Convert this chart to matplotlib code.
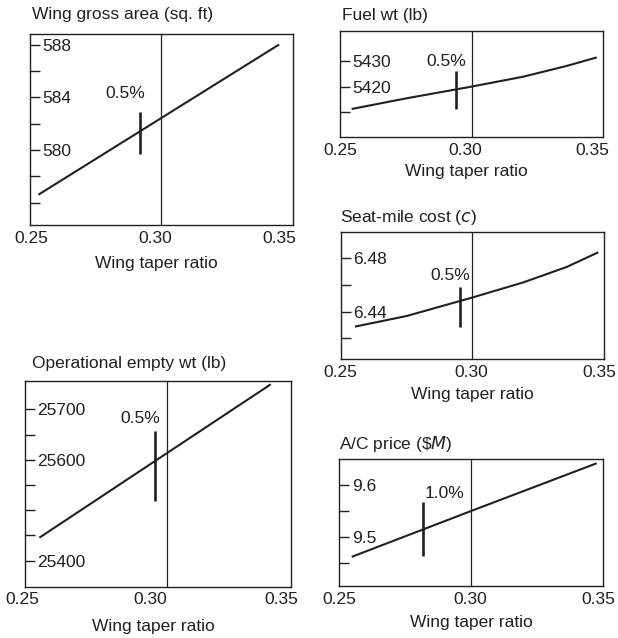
import matplotlib.pyplot as plt
from matplotlib.transforms import ScaledTranslation

plt.rcParams['font.family'] = ['Liberation Sans', 'DejaVu Sans']
plt.rcParams['font.size'] = 12.5
ink = '#231f20'

# Wing gross area (sq. ft)
taper_area = [0.2532, 0.3447]
area = [576.6, 588.0]

# Fuel wt (lb)
taper_fuel = [0.2544, 0.2754, 0.2988, 0.3197, 0.3362, 0.3476]
fuel = [5411.3, 5415.5, 5419.8, 5423.9, 5428.1, 5431.4]

# Seat-mile cost (c)
taper_cost = [0.2554, 0.2751, 0.2998, 0.3194, 0.3358, 0.3478]
cost = [6.4288, 6.4368, 6.4505, 6.4620, 6.4735, 6.4845]

# Operational empty wt (lb)
taper_oew = [0.2554, 0.3425]
oew = [25445.6, 25749.5]

# A/C price ($M)
taper_price = [0.2547, 0.30, 0.3475]
price = [9.4613, 9.55, 9.642]

# sensitivity bars: x, low, high, label
marks = {
    'area': (0.2918, 579.7, 582.9, '0.5%'),
    'fuel': (0.294, 5411.3, 5426.0, '0.5%'),
    'cost': (0.2954, 6.4287, 6.4587, '0.5%'),
    'oew': (0.2989, 25519, 25656, '0.5%'),
    'price': (0.2816, 9.4627, 9.5666, '1.0%'),
}

fig = plt.figure(figsize=(6.18, 6.38), dpi=100)


def panel(rect, title, x, y, ylim, major, major_lbl, minor, mark, lbl_xy,
          title_off, xlabel_off, tick_dx, vline=0.30):
    ax = fig.add_axes(rect)
    ax.plot(x, y, color=ink, lw=1.5, solid_capstyle='butt')
    ax.axvline(vline, color=ink, lw=0.9)
    mx, lo, hi, txt = mark
    ax.plot([mx, mx], [lo, hi], color=ink, lw=1.9, solid_capstyle='butt')
    ax.text(lbl_xy[0], lbl_xy[1], txt, ha='center', va='center', color=ink)
    ax.set_xlim(0.25, 0.35)
    ax.set_ylim(*ylim)
    ax.set_xticks([0.25, 0.30, 0.35])
    ax.set_xticklabels(['0.25', '0.30', '0.35'])
    ax.set_yticks(major)
    ax.set_yticklabels(major_lbl)
    ax.set_yticks(minor, minor=True)
    ax.tick_params(axis='x', length=0, pad=4, colors=ink, labelsize=12.5)
    ax.tick_params(axis='y', which='both', direction='in', length=7.2,
                   width=1, colors=ink, pad=-9, labelsize=12.5)
    for t in ax.get_yticklabels():
        t.set_horizontalalignment('left')
    # the printed tick labels sit a little left of their positions
    for t, dx in zip(ax.get_xticklabels(), tick_dx):
        t.set_transform(t.get_transform() +
                        ScaledTranslation(dx / fig.dpi, 0, fig.dpi_scale_trans))
    for s in ax.spines.values():
        s.set_color(ink)
        s.set_linewidth(1.0)
    ax.annotate(title, xy=(0, 1), xycoords='axes fraction',
                xytext=(title_off[0], title_off[1]), textcoords='offset pixels',
                ha='left', va='center', color=ink)
    ax.annotate('Wing taper ratio', xy=(0.5, 0), xycoords='axes fraction',
                xytext=(xlabel_off[0], -xlabel_off[1]),
                textcoords='offset pixels', ha='center', va='center',
                color=ink)
    return ax


panel([0.0485, 0.6473, 0.4256, 0.2994], 'Wing gross area (sq. ft)',
      taper_area, area, (574.3, 588.8), [580, 584, 588],
      ['580', '584', '588'], [576, 578, 582, 586], marks['area'],
      (0.2861, 584.3), (2, 20), (-5, 38), (1, -6, -14))

panel([0.5502, 0.7853, 0.4256, 0.1661], 'Fuel wt (lb)',
      taper_fuel, fuel, (5400.4, 5441.7), [5420, 5430],
      ['5420', '5430'], [5410], marks['fuel'],
      (0.2902, 5429.7), (2, 16), (-5, 35), (0, -6, -11))

panel([0.5513, 0.4368, 0.4261, 0.1991], 'Seat-mile cost ($\\it{c}$)',
      taper_cost, cost, (6.4043, 6.4995), [6.44, 6.48],
      ['6.44', '6.48'], [6.42, 6.46], marks['cost'],
      (0.2915, 6.4669), (-1, 15), (0, 35), (0, -1, -5))

panel([0.0405, 0.0804, 0.4299, 0.3224], 'Operational empty wt (lb)',
      taper_oew, oew, (25348.5, 25756), [25400, 25600, 25700],
      ['25400', '25600', '25700'], [25450, 25500, 25550, 25650], marks['oew'],
      (0.2933, 25682), (7, 18), (-4, 40), (-3, -8, -9), vline=0.3033)

panel([0.5490, 0.0815, 0.4272, 0.1986], 'A/C price (\\$$\\it{M}$)',
      taper_price, price, (9.405, 9.6497), [9.5, 9.6],
      ['9.5', '9.6'], [9.45, 9.55], marks['price'],
      (0.29, 9.584), (0, 15), (0, 36), (0, -1, -5))

fig.savefig('out.png', dpi=100)
